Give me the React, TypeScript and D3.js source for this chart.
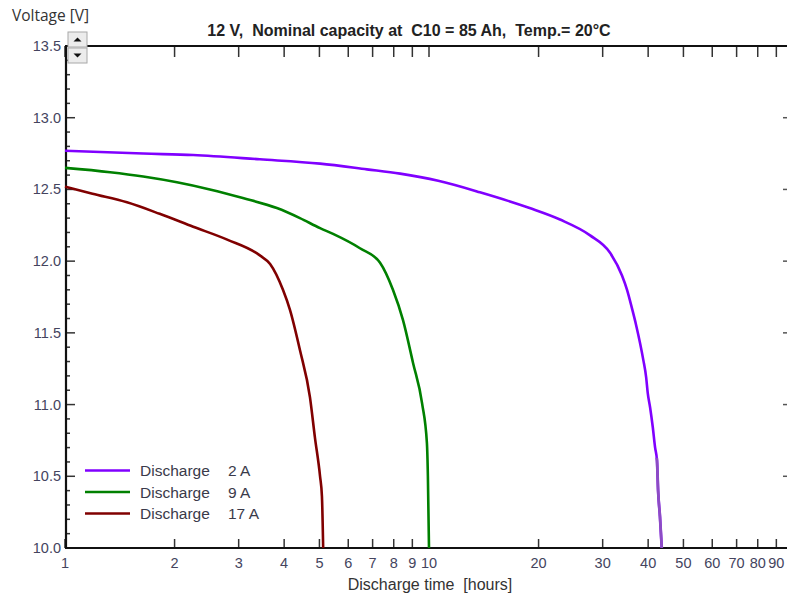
import { useEffect, useRef } from "react";
import * as d3 from "d3";

// discharge curves (time in hours, voltage in V)
const times2A = [1, 1.64, 2.25, 3.43, 5.02, 6.75, 8.33, 10.6, 13.8, 18.9, 22.9, 27.7, 31.4, 33.9, 35.0, 36.2, 37.1, 38.8, 39.5, 39.9, 40.5, 41.2, 41.8, 42.3, 42.6, 43.1, 43.6];
const volts2A = [12.77, 12.75, 12.74, 12.71, 12.68, 12.64, 12.61, 12.56, 12.48, 12.37, 12.29, 12.18, 12.06, 11.9, 11.8, 11.66, 11.55, 11.31, 11.19, 11.08, 10.98, 10.84, 10.7, 10.61, 10.4, 10.22, 10.0];

const times9A = [1, 1.33, 1.64, 2.03, 2.5, 3.08, 3.82, 4.42, 5.02, 5.45, 6.46, 7.33, 7.96, 8.48, 9.04, 9.57, 9.87, 9.93, 10.0];
const volts9A = [12.65, 12.62, 12.59, 12.55, 12.5, 12.44, 12.37, 12.3, 12.23, 12.19, 12.09, 11.99, 11.8, 11.59, 11.29, 11.01, 10.73, 10.5, 10.0];

const times17A = [1, 1.19, 1.48, 1.82, 2.25, 2.79, 3.43, 3.66, 3.97, 4.15, 4.42, 4.71, 4.86, 5.02, 5.08, 5.12];
const volts17A = [12.52, 12.47, 12.41, 12.33, 12.24, 12.15, 12.04, 11.98, 11.8, 11.66, 11.38, 11.05, 10.77, 10.5, 10.36, 10.0];

const seriesNames = ["Discharge", "Discharge", "Discharge"];
const seriesCurrents = ["2 A", "9 A", "17 A"];
const seriesColors = ["#8000ff", "#008000", "#800000"];

const xTicks = [1, 2, 3, 4, 5, 6, 7, 8, 9, 10, 20, 30, 40, 50, 60, 70, 80, 90];
const xLabels = ["1", "2", "3", "4", "5", "6", "7", "8", "9", "10", "20", "30", "40", "50", "60", "70", "80", "90"];
const yMajor = [10.0, 10.5, 11.0, 11.5, 12.0, 12.5, 13.0, 13.5];

const W = 787;
const H = 596;

const App = () => {
  const ref = useRef(null);

  useEffect(() => {
    const root = d3.select(ref.current);
    root.selectAll("*").remove();

    const left = 65;
    const right = 793;
    const top = 46;
    const bottom = 548;

    const x = d3.scaleLog().domain([1, 100]).range([left, right]);
    const y = d3.scaleLinear().domain([10, 13.5]).range([bottom, top]);

    const svg = root.append("g");
    const labelFont = "'Liberation Sans', Arial, sans-serif";
    const labelColor = "#44445e";

    // y ticks (minor every 0.1, major every 0.5), left and right side
    const yMinor = d3.range(100, 136).map((d) => d / 10);
    svg
      .selectAll("yMinor")
      .data(yMinor)
      .enter()
      .append("line")
      .attr("x1", left)
      .attr("x2", (d) => left + (yMajor.includes(d) ? 10 : 5))
      .attr("y1", (d) => y(d))
      .attr("y2", (d) => y(d))
      .attr("stroke", "#333")
      .attr("stroke-width", 1.5);

    svg
      .selectAll("yRight")
      .data(yMajor)
      .enter()
      .append("line")
      .attr("x1", right - 10)
      .attr("x2", right)
      .attr("y1", (d) => y(d))
      .attr("y2", (d) => y(d))
      .attr("stroke", "#555")
      .attr("stroke-width", 1.5);

    svg
      .selectAll("yLabels")
      .data(yMajor)
      .enter()
      .append("text")
      .attr("x", left - 4)
      .attr("y", (d) => y(d) + 5)
      .attr("text-anchor", "end")
      .style("font-family", labelFont)
      .style("font-size", "14.5px")
      .attr("fill", labelColor)
      .text((d) => d.toFixed(1));

    // x ticks bottom (up) and top (down)
    svg
      .selectAll("xBottom")
      .data(xTicks)
      .enter()
      .append("line")
      .attr("x1", (d) => x(d))
      .attr("x2", (d) => x(d))
      .attr("y1", bottom)
      .attr("y2", bottom - 9)
      .attr("stroke", "#333")
      .attr("stroke-width", 1.5);

    svg
      .selectAll("xTop")
      .data(xTicks)
      .enter()
      .append("line")
      .attr("x1", (d) => x(d))
      .attr("x2", (d) => x(d))
      .attr("y1", top)
      .attr("y2", top + 11)
      .attr("stroke", "#333")
      .attr("stroke-width", 1.5);

    svg
      .selectAll("xLabels")
      .data(xTicks)
      .enter()
      .append("text")
      .attr("x", (d) => x(d))
      .attr("y", 568)
      .attr("text-anchor", "middle")
      .style("font-family", labelFont)
      .style("font-size", "14.5px")
      .attr("fill", labelColor)
      .text((d, i) => xLabels[i]);

    // frame lines
    svg.append("line").attr("x1", left).attr("x2", right).attr("y1", bottom).attr("y2", bottom).attr("stroke", "#111").attr("stroke-width", 2.2);
    svg.append("line").attr("x1", left).attr("x2", right).attr("y1", top).attr("y2", top).attr("stroke", "#111").attr("stroke-width", 2.2);
    svg.append("line").attr("x1", left + 1).attr("x2", left + 1).attr("y1", top).attr("y2", bottom).attr("stroke", "#111").attr("stroke-width", 2.2);

    // curves
    const line = d3
      .line()
      .x((d) => x(d[0]))
      .y((d) => y(d[1]))
      .curve(d3.curveMonotoneX);

    const series = [
      times2A.map((t, i) => [t, volts2A[i]]),
      times9A.map((t, i) => [t, volts9A[i]]),
      times17A.map((t, i) => [t, volts17A[i]]),
    ];

    svg
      .selectAll("curves")
      .data(series)
      .enter()
      .append("path")
      .attr("d", (d) => line(d))
      .attr("fill", "none")
      .attr("stroke", (d, i) => seriesColors[i])
      .attr("stroke-width", 2.6)
      .attr("stroke-linejoin", "round");

    // the last stretch of the 2 A curve is drawn in a duller purple
    svg
      .append("clipPath")
      .attr("id", "lowClip")
      .append("rect")
      .attr("x", left)
      .attr("y", y(10.63))
      .attr("width", right - left)
      .attr("height", bottom - y(10.63));

    svg
      .append("path")
      .attr("d", line(series[0]))
      .attr("fill", "none")
      .attr("stroke", "#8c4cc4")
      .attr("stroke-width", 2.8)
      .attr("clip-path", "url(#lowClip)");

    // legend
    const legend = svg
      .selectAll("legend")
      .data(seriesNames)
      .enter()
      .append("g")
      .attr("transform", (d, i) => "translate(85," + (470.5 + i * 21.5) + ")");

    legend
      .append("line")
      .attr("x1", 0)
      .attr("x2", 45)
      .attr("stroke", (d, i) => seriesColors[i])
      .attr("stroke-width", 2.6);

    legend
      .append("text")
      .attr("x", 55)
      .attr("y", 5.5)
      .style("font-family", labelFont)
      .style("font-size", "15.5px")
      .attr("fill", "#3a3a4a")
      .text((d) => d);

    legend
      .append("text")
      .attr("x", 143)
      .attr("y", 5.5)
      .style("font-family", labelFont)
      .style("font-size", "15.5px")
      .attr("fill", "#3a3a4a")
      .text((d, i) => seriesCurrents[i]);

    // title and axis names
    svg
      .append("text")
      .attr("x", 409)
      .attr("y", 36)
      .attr("text-anchor", "middle")
      .style("font-family", labelFont)
      .style("font-size", "16px")
      .style("font-weight", "bold")
      .style("white-space", "pre")
      .attr("fill", "#222")
      .text("12 V,  Nominal capacity at  C10 = 85 Ah,  Temp.= 20°C");

    svg
      .append("text")
      .attr("x", 430)
      .attr("y", 590)
      .attr("text-anchor", "middle")
      .style("font-family", labelFont)
      .style("font-size", "16px")
      .style("white-space", "pre")
      .attr("fill", "#333")
      .text("Discharge time  [hours]");

    svg
      .append("text")
      .attr("x", 12)
      .attr("y", 21)
      .style("font-family", "'Open Sans', sans-serif")
      .style("font-size", "15.5px")
      .attr("fill", "#333")
      .text("Voltage [V]");

    // spinner buttons at the top of the y axis
    const spin = svg.append("g");
    [32, 48].forEach((by, i) => {
      spin
        .append("rect")
        .attr("x", 68)
        .attr("y", by)
        .attr("width", 19)
        .attr("height", 15)
        .attr("fill", "#ececec")
        .attr("stroke", "#a8a8a8");
      const cx = 77.5;
      const cy = by + 7.5;
      const pts =
        i === 0
          ? [[cx - 4, cy + 2], [cx + 4, cy + 2], [cx, cy - 2]]
          : [[cx - 4, cy - 2], [cx + 4, cy - 2], [cx, cy + 2]];
      spin.append("polygon").attr("points", pts.join(" ")).attr("fill", "#111");
    });
  }, []);

  return (
    <svg
      ref={ref}
      width={W}
      height={H}
      style={{ position: "absolute", left: 0, top: 0, background: "#fff" }}
    />
  );
};

export default App;
